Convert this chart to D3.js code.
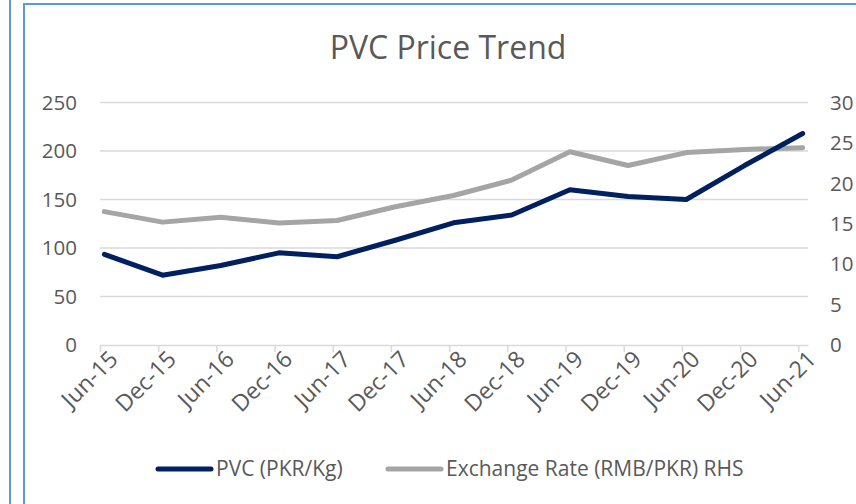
<!DOCTYPE html>
<html>
<head>
<meta charset="utf-8">
<script src="https://cdn.jsdelivr.net/npm/d3@7"></script>
<style>
  body { margin: 0; background: #fff; }
  text { font-family: "Open Sans", sans-serif; fill: #595959; }
</style>
</head>
<body>
<div id="chart"></div>
<script>
// categories every 6 months, Jun-15 .. Jun-21
const labels = ["Jun-15","Dec-15","Jun-16","Dec-16","Jun-17","Dec-17","Jun-18","Dec-18","Jun-19","Dec-19","Jun-20","Dec-20","Jun-21"];
const pvc = [93.5, 72, 82, 95, 91, 108, 126, 134, 160, 153, 150, 185, 218];
const fx = [16.5, 15.2, 15.8, 15.1, 15.4, 17.1, 18.5, 20.4, 23.9, 22.2, 23.8, 24.2, 24.4];
const leftTicks = [0, 50, 100, 150, 200, 250];
const rightTicks = [0, 5, 10, 15, 20, 25, 30];

const width = 856, height = 504;
const svg = d3.select("#chart").append("svg")
    .attr("width", width)
    .attr("height", height);

// frame lines of the surrounding boxes
svg.append("line").attr("x1", 10).attr("x2", 10).attr("y1", 0).attr("y2", height)
    .attr("stroke", "#5B9BD5").attr("stroke-width", 2);
svg.append("line").attr("x1", 24).attr("x2", 24).attr("y1", 3).attr("y2", height)
    .attr("stroke", "#5B9BD5").attr("stroke-width", 2);
svg.append("line").attr("x1", 23).attr("x2", width).attr("y1", 4).attr("y2", 4)
    .attr("stroke", "#5B9BD5").attr("stroke-width", 2);

// month index scale (date axis runs one month past the last label)
var x = d3.scaleLinear().domain([0, 73]).range([100, 808]);
var yL = d3.scaleLinear().domain([0, 250]).range([345, 102.5]);
var yR = d3.scaleLinear().domain([0, 30]).range([345, 102.5]);
const pos = i => x(i * 6 + 0.45);

svg.append("text")
    .attr("x", 448).attr("y", 59)
    .attr("text-anchor", "middle")
    .attr("font-size", 32)
    .text("PVC Price Trend");

// gridlines
svg.append("g").selectAll("line")
    .data(leftTicks.filter(d => d > 0))
    .enter().append("line")
    .attr("x1", 100).attr("x2", 808)
    .attr("y1", d => yL(d)).attr("y2", d => yL(d))
    .attr("stroke", "#D9D9D9").attr("stroke-width", 1.5);

// bottom axis
var xAxis = d3.axisBottom(x)
    .tickValues(labels.map((d, i) => i * 6))
    .tickSize(7)
    .tickSizeOuter(0)
    .tickFormat((d, i) => labels[i]);
var gx = svg.append("g").attr("transform", "translate(0,345)").call(xAxis);
gx.select(".domain").attr("stroke", "#D9D9D9").attr("stroke-width", 1.5);
gx.selectAll(".tick line").attr("stroke", "#D9D9D9").attr("stroke-width", 1.5);
gx.selectAll(".tick text")
    .attr("font-size", 23)
    .attr("font-family", "Open Sans")
    .attr("fill", "#595959")
    .attr("text-anchor", "end")
    .attr("dy", "0.35em")
    .attr("transform", "translate(6,3) rotate(-45)");

// left axis labels
svg.append("g").selectAll("text")
    .data(leftTicks)
    .enter().append("text")
    .attr("x", 77).attr("y", d => yL(d))
    .attr("dy", "0.35em")
    .attr("text-anchor", "end")
    .attr("font-size", 20.5)
    .text(d => d);

// right axis labels
svg.append("g").selectAll("text")
    .data(rightTicks)
    .enter().append("text")
    .attr("x", 830).attr("y", d => yR(d))
    .attr("dy", "0.35em")
    .attr("font-size", 20.5)
    .text(d => d);

var linePVC = d3.line().x((d, i) => pos(i)).y(d => yL(d));
var lineFX = d3.line().x((d, i) => pos(i)).y(d => yR(d));

svg.append("path").datum(fx)
    .attr("d", lineFX)
    .attr("fill", "none").attr("stroke", "#A5A5A5")
    .attr("stroke-width", 5).attr("stroke-linecap", "round").attr("stroke-linejoin", "round");
svg.append("path").datum(pvc)
    .attr("d", linePVC)
    .attr("fill", "none").attr("stroke", "#002060")
    .attr("stroke-width", 5).attr("stroke-linecap", "round").attr("stroke-linejoin", "round");

// legend
const legend = [
    {name: "PVC (PKR/Kg)", color: "#002060", x: 158},
    {name: "Exchange Rate (RMB/PKR) RHS", color: "#A5A5A5", x: 388}
];
var lg = svg.append("g").selectAll("g").data(legend).enter().append("g");
lg.append("line")
    .attr("x1", d => d.x).attr("x2", d => d.x + 53)
    .attr("y1", 469).attr("y2", 469)
    .attr("stroke", d => d.color).attr("stroke-width", 5).attr("stroke-linecap", "round");
lg.append("text")
    .attr("x", d => d.x + 58).attr("y", 469)
    .attr("dy", "0.35em")
    .attr("font-size", 21)
    .text(d => d.name);
</script>
</body>
</html>
